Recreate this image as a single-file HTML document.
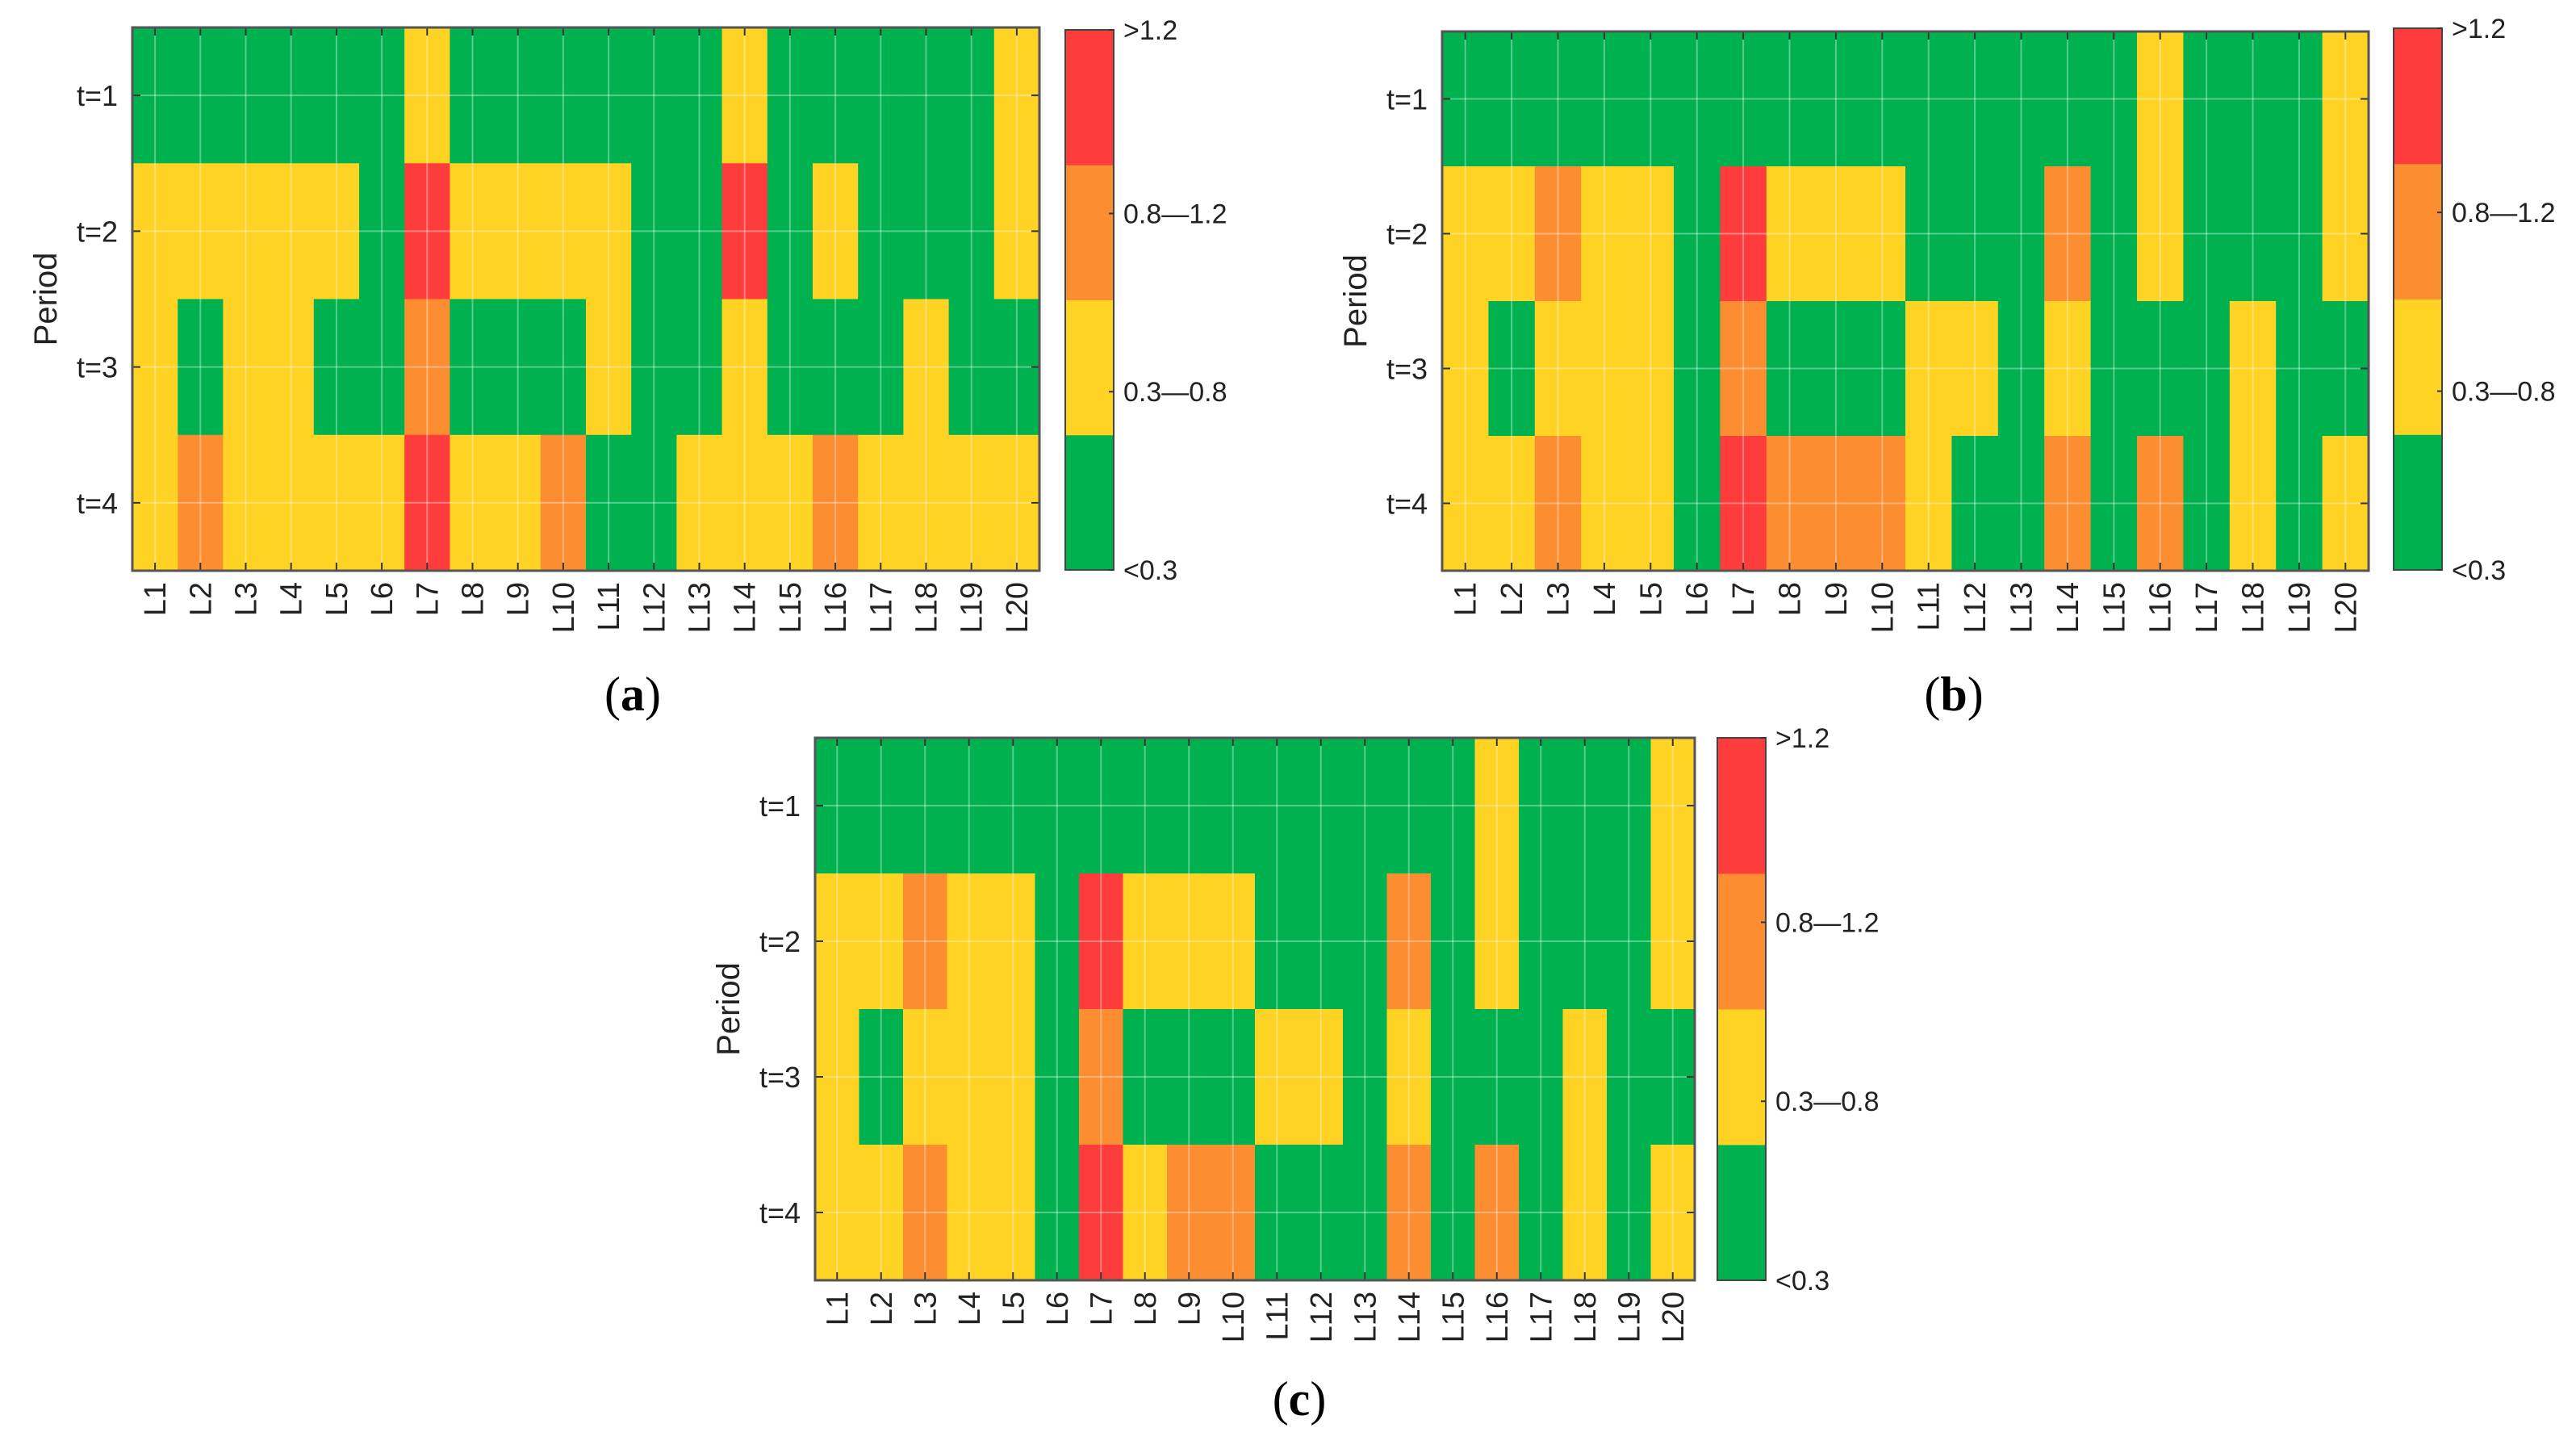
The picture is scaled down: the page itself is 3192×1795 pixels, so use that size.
<!DOCTYPE html>
<html><head><meta charset="utf-8"><style>
html,body{margin:0;padding:0;background:#fff;}
svg{display:block;}
</style></head><body>
<svg id="fig" width="3192" height="1795" viewBox="0 0 3192 1795" xmlns="http://www.w3.org/2000/svg"></svg>
<script>
const categories = ["L1","L2","L3","L4","L5","L6","L7","L8","L9","L10","L11","L12","L13","L14","L15","L16","L17","L18","L19","L20"];
const periods = ["t=1","t=2","t=3","t=4"];
const levelLabels = ["<0.3","0.3\u20140.8","0.8\u20141.2",">1.2"];
// 0:<0.3, 1:0.3-0.8, 2:0.8-1.2, 3:>1.2
const dataA = [
 [0,0,0,0,0,0,1,0,0,0,0,0,0,1,0,0,0,0,0,1],
 [1,1,1,1,1,0,3,1,1,1,1,0,0,3,0,1,0,0,0,1],
 [1,0,1,1,0,0,2,0,0,0,1,0,0,1,0,0,0,1,0,0],
 [1,2,1,1,1,1,3,1,1,2,0,0,1,1,1,2,1,1,1,1]
];
const dataB = [
 [0,0,0,0,0,0,0,0,0,0,0,0,0,0,0,1,0,0,0,1],
 [1,1,2,1,1,0,3,1,1,1,0,0,0,2,0,1,0,0,0,1],
 [1,0,1,1,1,0,2,0,0,0,1,1,0,1,0,0,0,1,0,0],
 [1,1,2,1,1,0,3,2,2,2,1,0,0,2,0,2,0,1,0,1]
];
const dataC = [
 [0,0,0,0,0,0,0,0,0,0,0,0,0,0,0,1,0,0,0,1],
 [1,1,2,1,1,0,3,1,1,1,0,0,0,2,0,1,0,0,0,1],
 [1,0,1,1,1,0,2,0,0,0,1,1,0,1,0,0,0,1,0,0],
 [1,1,2,1,1,0,3,1,2,2,0,0,0,2,0,2,0,1,0,1]
];
const palette = ["#00b14f","#fed324","#fd8d31","#fe3c3c"];
const NS = "http://www.w3.org/2000/svg";
const svg = document.getElementById('fig');
function mk(tag, attrs, parent){const e=document.createElementNS(NS,tag);for(const k in attrs)e.setAttribute(k,attrs[k]);(parent||svg).appendChild(e);return e;}

function panel(id, data, px, py, pw, ph, cbx, cby, cbh, cap, capx, capy){
  const g = mk('g',{});
  
  
  const cw = pw/categories.length, rh = ph/periods.length;
  const xs = i => px + i*cw;
  const ys = j => py + j*rh;
  data.forEach((row,j)=>row.forEach((v,i)=>{
    const r = mk('rect',{x:xs(i),y:ys(j),width:cw+0.6,height:rh+0.6,fill:palette[v]},g);
    
    
  }));
  categories.forEach((c,i)=>{
    const x = xs(i)+cw/2;
    mk('line',{x1:x,y1:py,x2:x,y2:py+ph,stroke:'rgba(255,255,255,0.35)','stroke-width':2},g);
    mk('line',{x1:x,y1:py+ph,x2:x,y2:py+ph-10,stroke:'#333','stroke-width':2},g);
    mk('line',{x1:x,y1:py,x2:x,y2:py+10,stroke:'#333','stroke-width':2},g);
    const t = mk('text',{x:0,y:0,transform:`translate(${x+13},${py+ph+14}) rotate(-90)`,'text-anchor':'end','font-family':'Liberation Sans, sans-serif','font-size':38,fill:'#222'},g);
    t.textContent = c;
    
    
  });
  periods.forEach((p,j)=>{
    const y = ys(j)+rh/2;
    mk('line',{x1:px,y1:y,x2:px+pw,y2:y,stroke:'rgba(255,255,255,0.35)','stroke-width':2},g);
    mk('line',{x1:px,y1:y,x2:px+10,y2:y,stroke:'#333','stroke-width':2},g);
    mk('line',{x1:px+pw,y1:y,x2:px+pw-10,y2:y,stroke:'#333','stroke-width':2},g);
    const t = mk('text',{x:px-18,y:y+13,'text-anchor':'end','font-family':'Liberation Sans, sans-serif','font-size':36,fill:'#222'},g);
    t.textContent = p;
    
    
  });
  mk('rect',{x:px,y:py,width:pw,height:ph,fill:'none',stroke:'#555','stroke-width':3},g);
  const yt = mk('text',{x:0,y:0,transform:`translate(${px-94},${py+ph/2}) rotate(-90)`,'text-anchor':'middle','font-family':'Liberation Sans, sans-serif','font-size':40,fill:'#222'},g);
  yt.textContent = 'Period';
  
  
  const cb = mk('g',{},g);
  
  
  const cbw = 60, sh = cbh/4;
  for(let k=0;k<4;k++){
    mk('rect',{x:cbx,y:cby+cbh-(k+1)*sh,width:cbw,height:sh+0.5,fill:palette[k]},cb);
  }
  mk('rect',{x:cbx,y:cby,width:cbw,height:cbh,fill:'none',stroke:'#444','stroke-width':2},cb);
  const ly = [cby+cbh, cby+cbh*0.67, cby+cbh*0.34, cby];
  levelLabels.forEach((l,k)=>{
    mk('line',{x1:cbx+cbw,y1:ly[k],x2:cbx+cbw-6,y2:ly[k],stroke:'#333','stroke-width':2},cb);
    const t = mk('text',{x:cbx+cbw+12,y:ly[k]+12,'font-family':'Liberation Sans, sans-serif','font-size':34,fill:'#222'},cb);
    t.textContent = l;
    
    
  });
  const c = mk('text',{x:capx,y:capy,'text-anchor':'middle','font-family':'Liberation Serif, serif','font-size':60,fill:'#000'},g);
  c.innerHTML = '(<tspan font-weight="bold">'+cap+'</tspan>)';
  
  
}
panel('a', dataA, 164, 34, 1124, 673, 1320, 37, 669, 'a', 784, 880);
panel('b', dataB, 1787, 39, 1148, 668, 2966, 35, 671, 'b', 2421, 880);
panel('c', dataC, 1010, 914, 1090, 672, 2128, 914, 672, 'c', 1610, 1753);
</script>
</body></html>
